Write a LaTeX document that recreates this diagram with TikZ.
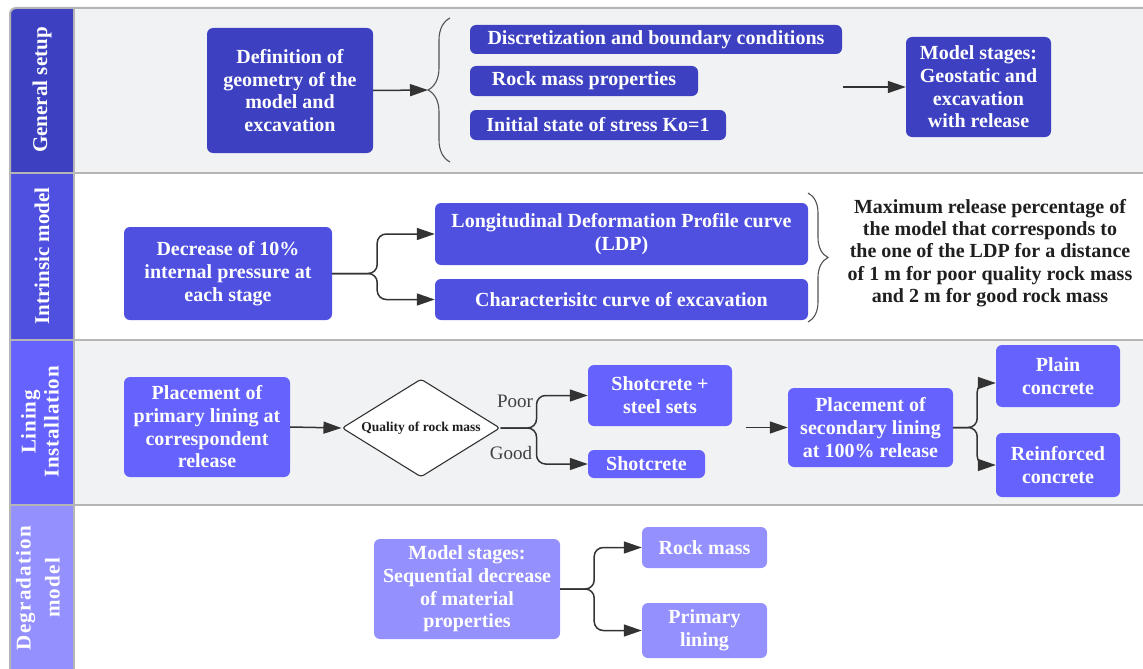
\documentclass[tikz,border=0pt]{standalone}
\usepackage{fontspec}
\setmainfont{Liberation Serif}
\usetikzlibrary{shapes.geometric,arrows.meta,decorations.pathreplacing,positioning}
\definecolor{setupblue}{HTML}{3D41C1}
\definecolor{intrblue}{HTML}{4F50E0}
\definecolor{liningblue}{HTML}{6562FE}
\definecolor{degrblue}{HTML}{9491FF}
\definecolor{lanegray}{HTML}{F1F2F4}
\definecolor{framegray}{HTML}{B5B5B5}
\definecolor{conngray}{HTML}{333333}
\tikzstyle{box} = [rounded corners=6pt, text=white, align=center, inner sep=0pt, font=\fontsize{20}{22.7}\selectfont\bfseries]
\tikzstyle{conn} = [draw=conngray, line width=1.5pt, -{Triangle[length=18pt,width=12pt]}]
\tikzstyle{fork} = [conn, rounded corners=9pt]
\tikzstyle{lanehead} = [text=white, rotate=90, align=center, font=\fontsize{21}{23}\selectfont\bfseries]
\tikzstyle{bracket} = [draw=conngray!85, line width=1.1pt, decorate]
\tikzstyle{plaintext} = [align=center, inner sep=0pt, text=black!88, font=\fontsize{20}{22.2}\selectfont\bfseries]

\begin{document}
\begin{tikzpicture}[x=1pt,y=-1pt]
  \useasboundingbox (0,0) rectangle (1143,669);
  % Lanes
  \fill[lanegray] (74,8) rectangle (1143,173);
  \fill[white] (74,173) rectangle (1143,340);
  \fill[lanegray] (74,340) rectangle (1143,505);
  \fill[white] (74,505) rectangle (1143,669);
  \fill[setupblue] (74,173) -- (10,173) [rounded corners=6pt] -- (10,8) [sharp corners] -- (74,8) -- cycle;
  \fill[intrblue] (10,173) rectangle (74,340);
  \fill[liningblue] (10,340) rectangle (74,505);
  \fill[degrblue] (10,505) rectangle (74,669);
  \foreach \ly in {173,340,505}{
    \draw[framegray, line width=2pt] (10,\ly) -- (1143,\ly);
  }
  \draw[framegray, line width=2pt] (10,669) -- (10,14) [rounded corners=6pt] -- (10,8) -- (1143,8);
  \draw[framegray, line width=2pt] (74,8) -- (74,669);
  \node[lanehead] (h1) at (42,90) {General setup};
  \node[lanehead] (h2) at (42,256) {Intrinsic model};
  \node[lanehead, font=\fontsize{21}{23}\selectfont\bfseries\addfontfeature{LetterSpace=4}] (h3) at (40,422) {Lining\\Installation};
  \node[lanehead, font=\fontsize{21}{23}\selectfont\bfseries\addfontfeature{LetterSpace=6}] (h4) at (38,588) {Degradation\\[6pt]model};
  % General setup
  \node[box, fill=setupblue, minimum width=166pt, minimum height=125pt] (def) at (290,90.5) {Definition of\\geometry of the\\model and\\excavation};
  \node[box, fill=setupblue, minimum width=372pt, minimum height=29pt] (disc) at (656,39.5) {Discretization and boundary conditions};
  \node[box, fill=setupblue, minimum width=228pt, minimum height=30pt] (rockp) at (584,81) {Rock mass properties};
  \node[box, fill=setupblue, minimum width=256pt, minimum height=30pt] (init) at (598,125) {Initial state of stress Ko=1};
  \node[box, fill=setupblue, minimum width=145pt, minimum height=100pt] (stagesA) at (978.5,87) {Model stages:\\Geostatic and\\excavation\\with release};
  \draw[bracket, decoration={brace, amplitude=22pt}] (450,162) -- (450,18);
  \coordinate (tip1) at (428,90);
  \coordinate (a1) at (843,87);
  \draw[conn] (def.east) -- (tip1);
  \draw[conn] (a1) -- (stagesA.west);
  % Intrinsic model
  \node[box, fill=intrblue, minimum width=208pt, minimum height=93pt] (dec) at (228,273.5) {Decrease of 10\%\\internal pressure at\\each stage};
  \node[box, fill=intrblue, minimum width=373pt, minimum height=62pt] (ldp) at (621.5,234) {Longitudinal Deformation Profile curve\\(LDP)};
  \node[box, fill=intrblue, minimum width=373pt, minimum height=41pt] (charc) at (621.5,299.5) {Characterisitc curve of excavation};
  \draw[fork] (dec.east) -- ++(45,0) |- (ldp.west);
  \draw[fork] (dec.east) -- ++(45,0) |- (charc.west);
  \draw[bracket, decoration={brace, amplitude=20pt}] (808,193) -- (808,322);
  \node[plaintext] (maxrel) at (990,253) {Maximum release percentage of\\the model that corresponds to\\the one of the LDP for a distance\\of 1 m for poor quality rock mass\\and 2 m for good rock mass};
  % Lining installation
  \node[box, fill=liningblue, minimum width=166pt, minimum height=100pt] (place) at (207,427) {Placement of\\primary lining at\\correspondent\\release};
  \node[diamond, draw=conngray, line width=1.1pt, fill=white, rounded corners=3pt, aspect=1.6, inner sep=0pt, minimum width=158pt, minimum height=98pt, text=black!88, font=\fontsize{13.5}{16}\selectfont\bfseries] (qual) at (421,428) {Quality of rock mass};
  \node[box, fill=liningblue, minimum width=144pt, minimum height=61pt] (shotsteel) at (660,395.5) {Shotcrete +\\steel sets};
  \node[box, fill=liningblue, minimum width=117pt, minimum height=28pt] (shot) at (646.5,464) {Shotcrete};
  \node[box, fill=liningblue, minimum width=165pt, minimum height=79pt] (second) at (870.5,427.5) {Placement of\\secondary lining\\at 100\% release};
  \node[box, fill=liningblue, minimum width=124pt, minimum height=62pt] (plain) at (1058,376) {Plain\\concrete};
  \node[box, fill=liningblue, minimum width=124pt, minimum height=64pt] (reinf) at (1058,465) {Reinforced\\concrete};
  \draw[conn] (place.east) -- (qual.west);
  \draw[fork] (qual.east) -- ++(36,0) |- (shotsteel.west);
  \draw[fork] (qual.east) -- ++(36,0) |- (shot.west);
  \node[text=black!75, font=\fontsize{19}{22}\selectfont] (poor) at (515,401) {Poor};
  \node[text=black!75, font=\fontsize{19}{22}\selectfont] (good) at (511,453) {Good};
  \coordinate (a3) at (746,427.5);
  \draw[conn] (a3) -- (second.west);
  \draw[fork] (second.east) -- ++(24,0) |- ([yshift=-7pt]plain.west);
  \draw[fork] (second.east) -- ++(24,0) |- (reinf.west);
  % Degradation model
  \node[box, fill=degrblue, minimum width=186pt, minimum height=100pt] (stagesB) at (467,589) {Model stages:\\Sequential decrease\\of material\\properties};
  \node[box, fill=degrblue, minimum width=125pt, minimum height=41pt] (rockm) at (704.5,547.5) {Rock mass};
  \node[box, fill=degrblue, minimum width=125pt, minimum height=55pt] (prim) at (704.5,630.5) {Primary\\lining};
  \draw[fork] (stagesB.east) -- ++(34,0) |- (rockm.west);
  \draw[fork] (stagesB.east) -- ++(34,0) |- (prim.west);
\end{tikzpicture}
\end{document}
